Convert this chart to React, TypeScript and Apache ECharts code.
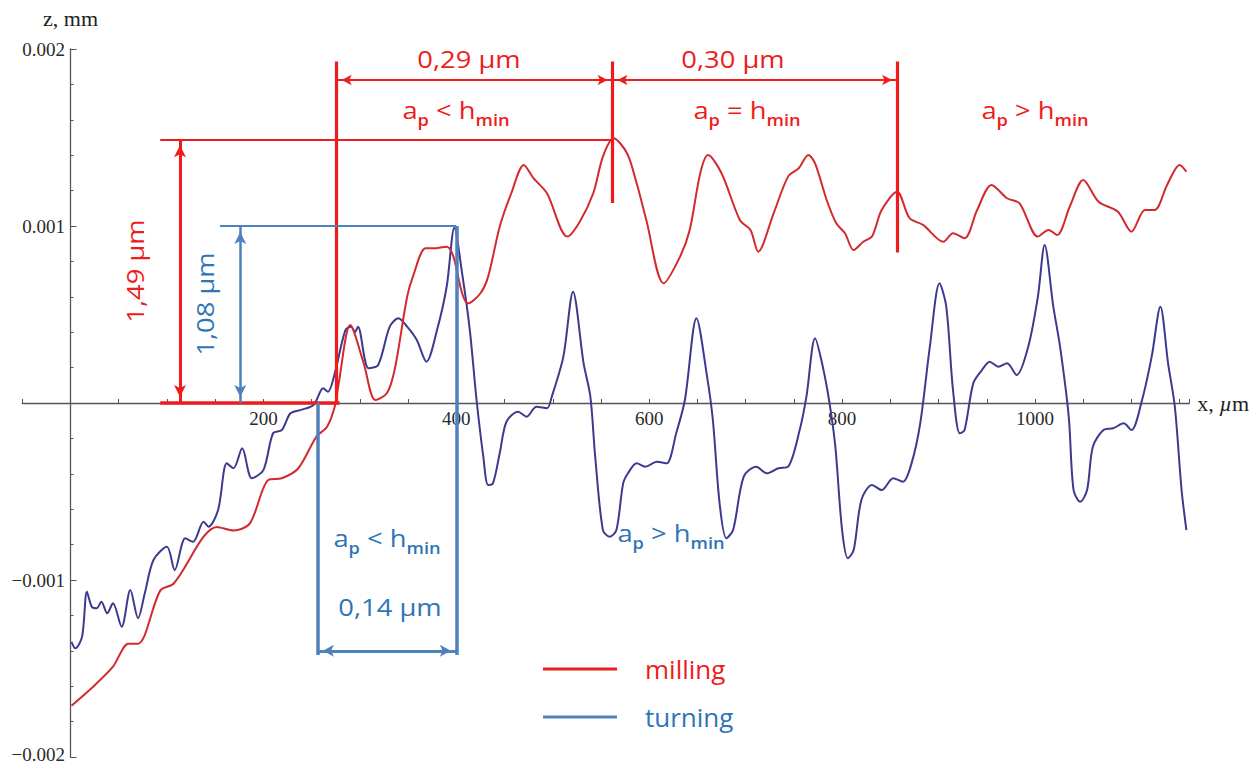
import React, { useEffect, useRef } from 'react';
import * as echarts from 'echarts';

// Surface profiles: [x (µm), z (mm)]
const milling: [number, number][] = [
  [1, -0.00171], [24, -0.0016], [44, -0.00149], [60, -0.00136], [70, -0.00136],
  [93, -0.00106], [107, -0.00102], [152, -0.0007], [169, -0.00072], [186, -0.00068],
  [205, -0.000435], [219, -0.000425], [236, -0.00037], [255, -0.00019], [266, -0.000134],
  [274, -0.00002], [278, 0.00011], [290, 0.00044], [304, 0.000224], [316, 0.000017],
  [328, 0.000055], [336, 0.000186], [349, 0.0006], [355, 0.000714], [368, 0.000874],
  [376, 0.000874], [390, 0.000883], [397, 0.000827], [406, 0.00062], [412, 0.000563],
  [425, 0.00062], [433, 0.000714], [445, 0.000996], [457, 0.001185], [470, 0.001345],
  [480, 0.00127], [494, 0.001185], [515, 0.00094], [528, 0.001024], [542, 0.001185],
  [552, 0.001392], [563, 0.001496], [577, 0.001411], [587, 0.001241], [597, 0.001034],
  [615, 0.000676], [632, 0.000827], [642, 0.000977], [653, 0.0013], [661, 0.001401],
  [675, 0.001298], [694, 0.001034], [705, 0.000977], [713, 0.000855], [729, 0.001072],
  [744, 0.001279], [755, 0.001326], [765, 0.001401], [772, 0.001354], [784, 0.001147],
  [794, 0.001015], [803, 0.000959], [812, 0.000864], [822, 0.000911], [831, 0.00094],
  [841, 0.00109], [857, 0.001194], [870, 0.001044], [884, 0.001006], [905, 0.000911],
  [915, 0.000959], [927, 0.000931], [940, 0.00109], [955, 0.001232], [971, 0.001157],
  [984, 0.001128], [1003, 0.00094], [1014, 0.000977], [1023, 0.000949], [1036, 0.001109],
  [1050, 0.00126], [1066, 0.001137], [1086, 0.001081], [1100, 0.000968], [1114, 0.00109],
  [1124, 0.00109], [1137, 0.001232], [1150, 0.001345], [1157, 0.001307],
];

const turning: [number, number][] = [
  [1, -0.001349], [5, -0.001386], [12, -0.00132], [17, -0.001066], [22, -0.001151],
  [27, -0.00116], [32, -0.001123], [38, -0.001188], [44, -0.001132], [53, -0.001264],
  [62, -0.001057], [70, -0.001216], [77, -0.001075], [86, -0.000887], [100, -0.000812],
  [108, -0.000944], [119, -0.000764], [127, -0.000784], [138, -0.000671], [143, -0.000699],
  [153, -0.000605], [162, -0.000341], [169, -0.000369], [178, -0.000256], [188, -0.000425],
  [200, -0.000379], [210, -0.000171], [219, -0.000153], [228, -0.000058], [238, -0.00004],
  [252, -0.000011], [262, 0.000083], [267, 0.000064], [274, 0.000168], [285, 0.000412],
  [291, 0.000431], [295, 0.000401], [298, 0.000431], [309, 0.000196], [319, 0.000215],
  [331, 0.000431], [340, 0.000479], [349, 0.000431], [359, 0.000356], [369, 0.000233],
  [380, 0.000412], [390, 0.000657], [398, 0.00099], [406, 0.000733], [414, 0.000412],
  [421, 0.000017], [428, -0.000303], [433, -0.000463], [438, -0.000454], [445, -0.000284],
  [452, -0.000106], [464, -0.000049], [473, -0.000077], [483, -0.000021], [494, -0.00003],
  [499, 0.000036], [511, 0.000262], [521, 0.000629], [532, 0.000224], [539, 0.000036],
  [544, -0.000303], [552, -0.000718], [559, -0.000755], [566, -0.000718], [573, -0.000454],
  [578, -0.000397], [587, -0.000341], [596, -0.00036], [608, -0.000332], [618, -0.000341],
  [628, -0.000171], [637, 0.000017], [649, 0.000479], [660, 0.000149], [666, -0.000096],
  [673, -0.000567], [680, -0.000764], [687, -0.000718], [698, -0.000416], [711, -0.00036],
  [722, -0.000397], [734, -0.000369], [744, -0.00036], [756, -0.000153], [763, 0.000036],
  [772, 0.000366], [780, 0.000205], [787, -0.000002], [793, -0.000247], [800, -0.000718],
  [806, -0.000877], [812, -0.000831], [820, -0.000548], [831, -0.000463], [841, -0.000492],
  [853, -0.000425], [863, -0.000445], [872, -0.000341], [881, -0.000115], [891, 0.000318],
  [901, 0.000676], [908, 0.000544], [915, 0.000073], [922, -0.000171], [927, -0.000153],
  [936, 0.000111], [945, 0.000186], [953, 0.000233], [962, 0.000205], [971, 0.000224],
  [981, 0.000158], [993, 0.000318], [1003, 0.000601], [1010, 0.000893], [1019, 0.000544],
  [1026, 0.000318], [1035, -0.000077], [1040, -0.000492], [1047, -0.000558], [1054, -0.000492],
  [1060, -0.000247], [1071, -0.000153], [1081, -0.000143], [1092, -0.000115], [1100, -0.000153],
  [1111, 0.000017], [1121, 0.000262], [1130, 0.000544], [1138, 0.000224], [1145, -0.000021],
  [1152, -0.000492], [1157, -0.000718],
];

const xLabelValues = [200, 400, 600, 800, 1000];
const yLabelValues = [-0.002, -0.001, 0.001, 0.002];

// Annotation geometry (data units)
const redDividerX = [276, 562, 857];
const redDividerBottomZ = [0, 0.00113, 0.00085];
const redDividerTopZ = 0.00193;
const redSpanArrowZ = 0.001825;
const millingPeakZ = 0.00149;
const millingRefStartX = 93;
const millingRefEndX = 279;
const millingHeightArrowX = 113.5;
const turningPeakZ = 0.001;
const turningRefStartX = 155;
const turningHeightArrowX = 176;
const turningSpanX = [256, 400];
const turningSpanBottomZ = -0.001424;
const turningSpanArrowZ = -0.0014;

const redSpanLabels = ['0,29 µm', '0,30 µm'];
const millingHeightLabel = '1,49 µm';
const turningHeightLabel = '1,08 µm';
const turningSpanLabel = '0,14 µm';

const RED = '#ee1c1c';
const RED_CURVE = '#d22a2e';
const BLUE = '#4f81bd';
const BLUE_TEXT = '#2e75b6';
const BLUE_CURVE = '#3c3a8e';
const SANS = 'Open Sans';
const SERIF = 'Liberation Serif';
const STRETCH = 1.14;

function seg(x1: number, y1: number, x2: number, y2: number, color: string, width: number, s1 = 'none', s2 = 'none', size: number[] = [9, 11]) {
  const ls = { color, width, type: 'solid' };
  const is = { color };
  return [
    { coord: [x1, y1], symbol: s1, symbolSize: size, symbolOffset: [0, '50%'], lineStyle: ls, itemStyle: is },
    { coord: [x2, y2], symbol: s2, symbolSize: size, symbolOffset: [0, '50%'], lineStyle: ls, itemStyle: is },
  ];
}

function apRich(color: string) {
  return {
    m: { fontSize: 24, fontFamily: SANS, fill: color },
    s: { fontSize: 16, fontFamily: SANS, fontWeight: 600, fill: color, padding: [20, 0, 0, 0] },
  };
}

function apText(op: string, x: number, y: number, color: string) {
  return {
    type: 'text',
    x,
    y,
    z: 100,
    scaleX: STRETCH,
    style: {
      text: `{m|a}{s|p}{m| ${op} h}{s|min}`,
      align: 'center',
      verticalAlign: 'middle',
      fill: color,
      fontFamily: SANS,
      fontSize: 24,
      rich: apRich(color),
    },
  };
}

function plainText(text: string, x: number, y: number, color: string, rotation = 0) {
  return {
    type: 'text',
    x,
    y,
    z: 100,
    rotation,
    scaleX: STRETCH,
    style: { text, align: 'center', verticalAlign: 'middle', fill: color, fontFamily: SANS, fontSize: 24 },
  };
}

export default function App() {
  const ref = useRef<HTMLDivElement>(null);

  useEffect(() => {
    if (!ref.current) return;
    const chart = echarts.init(ref.current, undefined, { renderer: 'svg' });

    const redMarks = [
      ...redDividerX.map((x, i) => seg(x, redDividerBottomZ[i], x, redDividerTopZ, RED, 3.2)),
      seg(redDividerX[0], redSpanArrowZ, redDividerX[1], redSpanArrowZ, RED, 2, 'arrow', 'arrow', [8, 10]),
      seg(redDividerX[1], redSpanArrowZ, redDividerX[2], redSpanArrowZ, RED, 2, 'arrow', 'arrow', [8, 10]),
      seg(millingRefStartX, millingPeakZ, redDividerX[1], millingPeakZ, RED, 2),
      seg(millingRefStartX, 0, millingRefEndX, 0, RED, 3.5),
      seg(millingHeightArrowX, 0, millingHeightArrowX, millingPeakZ, RED, 3, 'arrow', 'arrow', [9, 12]),
    ];
    const blueMarks = [
      seg(turningRefStartX, turningPeakZ, turningSpanX[1], turningPeakZ, BLUE, 2),
      seg(turningHeightArrowX, 0, turningHeightArrowX, turningPeakZ, BLUE, 2.5, 'arrow', 'arrow', [9, 12]),
      seg(turningSpanX[1], turningPeakZ, turningSpanX[1], turningSpanBottomZ, BLUE, 3.5),
      seg(turningSpanX[0], 0, turningSpanX[0], turningSpanBottomZ, BLUE, 3.5),
      seg(turningSpanX[0], turningSpanArrowZ, turningSpanX[1], turningSpanArrowZ, BLUE, 3, 'arrow', 'arrow', [9, 11]),
    ];

    const yLabelText = { fontFamily: SERIF, fontSize: 19, color: '#2a2a2a' };

    const option: any = {
      animation: false,
      backgroundColor: '#ffffff',
      grid: { left: 22.3, right: 70.7, top: 49, bottom: 8, containLabel: false, outerBoundsMode: 'none' },
      xAxis: {
        type: 'value',
        min: -50,
        max: 1160,
        interval: 50,
        name: '{a|x, }{i|µ}{a|m}',
        nameLocation: 'end',
        nameGap: 8,
        nameTextStyle: {
          rich: {
            a: { fontFamily: SERIF, fontSize: 22, color: '#222' },
            i: { fontFamily: SERIF, fontSize: 22, fontStyle: 'italic', color: '#222' },
          },
        },
        axisLine: { onZero: true, lineStyle: { color: '#555', width: 1.3 } },
        axisTick: { show: true, inside: true, length: 4, lineStyle: { color: '#555' } },
        axisLabel: {
          fontFamily: SERIF,
          fontSize: 19,
          color: '#2a2a2a',
          // labels sit under the zero line instead of the grid's bottom edge
          margin: -348,
          formatter: (v: number) => (xLabelValues.includes(Math.round(v)) ? String(Math.round(v)) : ''),
        },
        splitLine: { show: false },
      },
      yAxis: {
        type: 'value',
        min: -0.002,
        max: 0.002,
        interval: 0.001,
        name: 'z, mm',
        nameLocation: 'end',
        nameGap: 20,
        nameTextStyle: { fontFamily: SERIF, fontSize: 22, color: '#222' },
        axisLine: { onZero: true, lineStyle: { color: '#555', width: 1.3 } },
        axisTick: { show: true, inside: true, length: 6, lineStyle: { color: '#555' } },
        minorTick: { show: true, splitNumber: 5, length: 3, lineStyle: { color: '#555' } },
        axisLabel: {
          ...yLabelText,
          lineHeight: 14,
          // labels sit left of the zero line instead of the grid's left edge
          margin: -42.7,
          rich: {
            low: { ...yLabelText, lineHeight: 14, padding: [0, 0, 6, 0] },
          },
          formatter: (v: number) => {
            const hit = yLabelValues.find((t) => Math.abs(t - v) < 1e-9);
            if (hit === undefined) return '';
            const s = (hit < 0 ? '\u2212' : '') + Math.abs(hit).toFixed(3);
            return hit === yLabelValues[0] ? `{low|${s}}` : s;
          },
        },
        splitLine: { show: false },
        minorSplitLine: { show: false },
      },
      legend: {
        orient: 'vertical',
        left: 538,
        top: 651,
        itemWidth: 74,
        itemHeight: 3,
        itemGap: 22,
        icon: 'rect',
        selectedMode: false,
        textStyle: { fontFamily: SANS, fontSize: 26, padding: [0, 0, 0, 23] },
        data: [
          { name: 'milling', icon: 'rect', itemStyle: { color: RED }, textStyle: { color: RED } },
          { name: 'turning', icon: 'rect', itemStyle: { color: BLUE }, textStyle: { color: BLUE_TEXT } },
        ],
      },
      series: [
        {
          type: 'line',
          name: 'milling',
          data: milling,
          smooth: 0.3,
          symbol: 'none',
          showSymbol: false,
          lineStyle: { color: RED_CURVE, width: 2 },
          itemStyle: { color: RED_CURVE },
          z: 3,
          markLine: { silent: true, animation: false, symbol: ['none', 'none'], label: { show: false }, data: redMarks },
        },
        {
          type: 'line',
          name: 'turning',
          data: turning,
          smooth: 0.3,
          symbol: 'none',
          showSymbol: false,
          lineStyle: { color: BLUE_CURVE, width: 2 },
          itemStyle: { color: BLUE_CURVE },
          z: 2,
          markLine: { silent: true, animation: false, symbol: ['none', 'none'], label: { show: false }, data: blueMarks },
        },
      ],
      graphic: [
        plainText(redSpanLabels[0], 469, 58.5, RED),
        plainText(redSpanLabels[1], 733, 58.5, RED),
        apText('<', 456, 109.5, RED),
        apText('=', 747, 109.5, RED),
        apText('>', 1035, 109.5, RED),
        plainText(millingHeightLabel, 135, 271, RED, Math.PI / 2),
        plainText(turningHeightLabel, 205, 304, BLUE_TEXT, Math.PI / 2),
        apText('<', 387, 538, BLUE_TEXT),
        plainText(turningSpanLabel, 390, 606.5, BLUE_TEXT),
        apText('>', 671, 533, BLUE_TEXT),
      ],
    };

    chart.setOption(option);
    return () => chart.dispose();
  }, []);

  return (
    <div
      ref={ref}
      style={{ position: 'absolute', left: 0, top: 0, width: 1260, height: 765, background: '#fff' }}
    />
  );
}
